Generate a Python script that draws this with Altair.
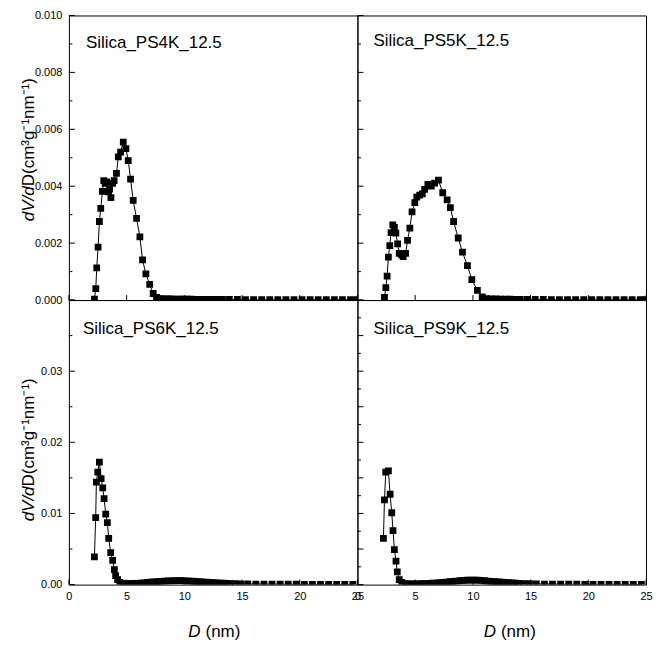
import altair as alt
import pandas as pd

FONT = "Liberation Sans"
W = 289
H = 285

# ---------------- data ----------------
d_ps4k = [2.21, 2.33, 2.41, 2.53, 2.64, 2.76, 2.90, 3.02, 3.14, 3.26, 3.40, 3.52, 3.64, 3.78,
          3.92, 4.12, 4.28, 4.48, 4.71, 4.94, 5.14, 5.34, 5.57, 5.86, 6.15, 6.38, 6.67, 7.00,
          7.30, 7.59, 7.9, 8.2, 8.5, 8.8, 9.1, 9.4, 9.7, 10.0, 10.3, 10.6, 10.9, 11.2, 11.5,
          11.8, 12.1, 12.4, 12.7, 13.0, 13.3, 13.9, 14.6, 15.3, 16.0, 16.7, 17.4, 18.1, 18.8,
          19.5, 20.2, 20.9, 21.6, 22.3, 23.0, 23.7, 24.4, 24.95]
v_ps4k = [0.00003, 0.0004, 0.00113, 0.00186, 0.00276, 0.00322, 0.00382, 0.0042, 0.0041,
          0.00415, 0.0038, 0.0039, 0.0036, 0.0041, 0.0042, 0.00445, 0.00503, 0.0052, 0.00555,
          0.00532, 0.0049, 0.00425, 0.0035, 0.00287, 0.00222, 0.00141, 0.00092, 0.00055,
          0.00023, 0.00009, 0.00005, 0.00004, 0.00004, 0.00004, 0.00003, 0.00003, 0.00003,
          0.00003, 0.00003, 0.00003, 0.00002, 0.00002, 0.00002, 0.00002, 0.00002, 0.00002,
          0.00002, 0.00002, 0.00002, 0.00002, 0.00002, 0.00001, 0.00001, 0.00001, 0.00001,
          0.00001, 0.00001, 0.00001, 0.00001, 0.00001, 0.00001, 0.00001, 0.00001, 0.00001,
          0.00001, 0.00001]

d_ps5k = [2.34, 2.46, 2.57, 2.68, 2.80, 2.91, 3.06, 3.20, 3.33, 3.48, 3.62, 3.83, 3.96, 4.17,
          4.34, 4.54, 4.73, 4.97, 5.14, 5.39, 5.62, 5.82, 6.10, 6.40, 6.68, 7.02, 7.39, 7.77,
          8.05, 8.33, 8.73, 9.10, 9.53, 9.91, 10.39, 10.81, 11.2, 11.6, 12.0, 12.4, 12.8, 13.2,
          13.6, 14.1, 14.7, 15.4, 16.1, 16.8, 17.5, 18.2, 18.9, 19.6, 20.3, 21.0, 21.7, 22.4,
          23.1, 23.8, 24.5, 24.95]
v_ps5k = [0.00009, 0.00044, 0.00084, 0.00151, 0.00191, 0.00237, 0.00264, 0.00255, 0.00235,
          0.00197, 0.00164, 0.00159, 0.00153, 0.00164, 0.0021, 0.00253, 0.0031, 0.00342,
          0.00362, 0.00369, 0.00373, 0.00389, 0.00406, 0.004, 0.00411, 0.00421, 0.00377,
          0.00352, 0.00325, 0.00276, 0.00218, 0.00168, 0.00121, 0.00072, 0.00034, 0.00011,
          0.00005, 0.00004, 0.00004, 0.00003, 0.00003, 0.00003, 0.00002, 0.00002, 0.00002,
          0.00002, 0.00002, 0.00001, 0.00001, 0.00001, 0.00001, 0.00001, 0.00001, 0.00001,
          0.00001, 0.00001, 0.00001, 0.00001, 0.00001, 0.00001]

d_ps6k = [2.21, 2.32, 2.38, 2.50, 2.64, 2.79, 2.93, 3.05, 3.19, 3.33, 3.45, 3.62, 3.79, 3.94,
          4.05, 4.22, 4.42, 4.70, 5.0, 5.3, 5.6, 5.9, 6.2, 6.5, 6.8, 7.1, 7.4, 7.7, 8.0, 8.3,
          8.6, 8.9, 9.2, 9.5, 9.8, 10.1, 10.4, 10.7, 11.0, 11.3, 11.6, 11.9, 12.2, 12.5, 12.8,
          13.1, 13.4, 13.7, 14.0, 14.4, 14.9, 15.5, 16.2, 16.9, 17.6, 18.3, 19.0, 19.7, 20.4,
          21.1, 21.8, 22.5, 23.2, 23.9, 24.6]
v_ps6k = [0.0039, 0.0094, 0.0144, 0.0158, 0.0172, 0.0149, 0.0136, 0.0121, 0.0099, 0.0087,
          0.0065, 0.0045, 0.0034, 0.0021, 0.00125, 0.0007, 0.0003, 0.00015,
          0.00015, 0.00015, 0.00016, 0.00018, 0.00021, 0.00025, 0.0003, 0.00034, 0.00038,
          0.00042, 0.00045, 0.00048, 0.00051, 0.00053, 0.00055, 0.00056, 0.00055, 0.00053,
          0.0005, 0.00047, 0.00043, 0.0004, 0.00036, 0.00033, 0.0003, 0.00027, 0.00024,
          0.00021, 0.00019, 0.00017, 0.00015, 0.00013, 0.00011, 0.0001,
          0.00008, 0.00007, 0.00006, 0.00006, 0.00005, 0.00005, 0.00004, 0.00004, 0.00004,
          0.00003, 0.00003, 0.00003, 0.00003]

d_ps9k = [2.25, 2.34, 2.45, 2.68, 2.83, 2.97, 3.08, 3.20, 3.34, 3.45, 3.62, 3.83, 4.1, 4.4,
          4.7, 5.0, 5.3, 5.6, 5.9, 6.2, 6.5, 6.8, 7.1, 7.4, 7.7, 8.0, 8.3, 8.6, 8.9, 9.2, 9.5,
          9.8, 10.1, 10.4, 10.7, 11.0, 11.3, 11.6, 11.9, 12.2, 12.5, 12.8, 13.1, 13.4, 13.7,
          14.0, 14.4, 14.9, 15.5, 16.2, 16.9, 17.6, 18.3, 19.0, 19.7, 20.4, 21.1, 21.8, 22.5,
          23.2, 23.9, 24.6]
v_ps9k = [0.0065, 0.0119, 0.0158, 0.0160, 0.0127, 0.0101, 0.0076, 0.0049, 0.0033, 0.0018,
          0.0007, 0.0003, 0.00015, 0.0001, 0.0001,
          0.0001, 0.00011, 0.00012, 0.00014, 0.00016, 0.00019, 0.00022, 0.00026, 0.0003,
          0.00035, 0.0004, 0.00045, 0.0005, 0.00055, 0.00059, 0.00062, 0.00064, 0.00064,
          0.00062, 0.00058, 0.00054, 0.0005, 0.00046, 0.00042, 0.00038, 0.00034, 0.0003,
          0.00027, 0.00024, 0.00021, 0.00018, 0.00015, 0.00012, 0.0001,
          0.00008, 0.00007, 0.00006, 0.00005, 0.00005, 0.00004, 0.00004, 0.00004, 0.00003,
          0.00003, 0.00003, 0.00003, 0.00003]

names = ["Silica_PS4K_12.5", "Silica_PS5K_12.5", "Silica_PS6K_12.5", "Silica_PS9K_12.5"]

x_ticks = [0, 5, 10, 15, 20, 25]
y_top_major = [0.000, 0.002, 0.004, 0.006, 0.008, 0.010]
y_top_minor = [0.001, 0.003, 0.005, 0.007, 0.009]
y_bl_labels = [0.00, 0.01, 0.02, 0.03]
y_bl_major = [0.00, 0.01, 0.02, 0.03, 0.04]
y_bl_minor = [0.005, 0.015, 0.025, 0.035]
y_br_major = [0.0, 0.005, 0.010, 0.015, 0.020, 0.025, 0.030, 0.035, 0.040]
y_br_minor = [0.0025, 0.0075, 0.0125, 0.0175, 0.0225, 0.0275, 0.0325, 0.0375]

y_title_italic = "dV/d"
y_title_rest = "D(cm³g⁻¹nm⁻¹)"
x_title_italic = "D"
x_title_rest = "(nm)"


def panel(d, v, name, ydom, ymaj, ymin, ylabels, yfmt, show_x, xj, yj, nx, ny):
    df = pd.DataFrame({"D": d, "v": v})
    xs = alt.Scale(domain=[0, 25], nice=False, zero=False)
    ys = alt.Scale(domain=ydom, nice=False, zero=False)
    if show_x:
        xaxis = alt.Axis(values=x_ticks, format="d", ticks=False, domain=False, grid=False,
                         labelPadding=6, labelFlush=False, labelOverlap=False, title=None,
                         labelFont=FONT, labelFontSize=11, labelColor="black")
    else:
        xaxis = None
    if ylabels is not None:
        yaxis = alt.Axis(values=ylabels, format=yfmt, ticks=False, domain=False, grid=False,
                         labelPadding=7, labelFlush=False, labelOverlap=False, title=None,
                         labelFont=FONT, labelFontSize=11, labelColor="black")
    else:
        yaxis = None
    xenc = alt.X("D:Q", scale=xs, axis=xaxis)
    yenc = alt.Y("v:Q", scale=ys, axis=yaxis)

    line = alt.Chart(df).mark_line(color="black", strokeWidth=1, clip=True).encode(x=xenc, y=yenc)
    pts = alt.Chart(df).mark_point(shape="square", filled=True, size=46, color="black",
                                   opacity=1, clip=True).encode(x=xenc, y=yenc)
    tmaj = alt.Chart(pd.DataFrame({"v": ymaj})).mark_rule(color="black", strokeWidth=1).encode(
        y=yenc, x=alt.value(0), x2=alt.value(6))
    tmin = alt.Chart(pd.DataFrame({"v": ymin})).mark_rule(color="black", strokeWidth=1).encode(
        y=yenc, x=alt.value(0), x2=alt.value(3.5))
    tx = alt.Chart(pd.DataFrame({"D": x_ticks})).mark_rule(color="black", strokeWidth=1).encode(
        x=xenc, y=alt.value(H), y2=alt.value(H - 5))
    lab = alt.Chart(pd.DataFrame({"t": [name]})).mark_text(
        font=FONT, fontSize=17, align="left", baseline="alphabetic", color="black").encode(
        text="t:N", x=alt.value(nx), y=alt.value(ny))
    layers = [line, pts, tmaj, tmin, tx, lab]
    if yj is not None:
        t1 = alt.Chart(pd.DataFrame({"t": [y_title_italic]})).mark_text(
            font=FONT, fontSize=17, fontStyle="italic", angle=270, align="right",
            baseline="alphabetic", color="black").encode(
            text="t:N", x=alt.value(-35), y=alt.datum(yj))
        t2 = alt.Chart(pd.DataFrame({"t": [y_title_rest]})).mark_text(
            font=FONT, fontSize=17, angle=270, align="left",
            baseline="alphabetic", color="black").encode(
            text="t:N", x=alt.value(-35), y=alt.datum(yj))
        layers += [t1, t2]
    if xj is not None:
        t3 = alt.Chart(pd.DataFrame({"t": [x_title_italic]})).mark_text(
            font=FONT, fontSize=17, fontStyle="italic", align="right",
            baseline="alphabetic", color="black").encode(
            text="t:N", x=alt.datum(xj), y=alt.value(H + 52))
        t4 = alt.Chart(pd.DataFrame({"t": [x_title_rest]})).mark_text(
            font=FONT, fontSize=17, align="left", dx=5,
            baseline="alphabetic", color="black").encode(
            text="t:N", x=alt.datum(xj), y=alt.value(H + 52))
        layers += [t3, t4]
    return alt.layer(*layers).properties(width=W, height=H)


tl = panel(d_ps4k, v_ps4k, names[0], [0, 0.010], y_top_major, y_top_minor, y_top_major, ".3f",
           False, None, 0.0040, 17, 33)
tr = panel(d_ps5k, v_ps5k, names[1], [0, 0.010], y_top_major, y_top_minor, None, None,
           False, None, None, 16, 31)
bl = panel(d_ps6k, v_ps6k, names[2], [0, 0.04], y_bl_major, y_bl_minor, y_bl_labels, ".2f",
           True, 11.4, 0.0138, 14, 34)
br = panel(d_ps9k, v_ps9k, names[3], [0, 0.04], y_br_major, y_br_minor, None, None,
           True, 12.0, None, 16, 34)

chart = alt.concat(tl, tr, bl, br, columns=2, spacing=0, bounds="flush").properties(
    padding={"left": 11, "top": 0, "right": 0, "bottom": 0}
).configure_view(stroke="black", strokeWidth=1)

chart.save("out.html", embed_options={"renderer": "svg", "actions": False})
